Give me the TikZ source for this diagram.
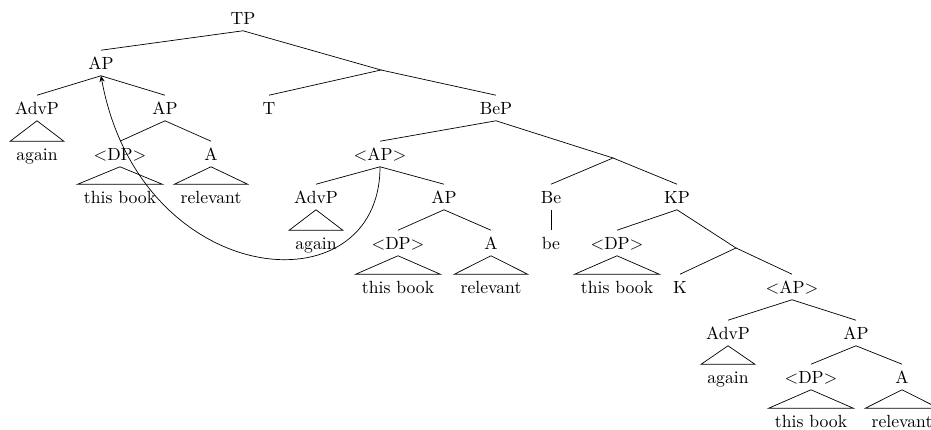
\documentclass[tikz,border=0pt]{standalone}
\usepackage{tikz}
\usetikzlibrary{arrows.meta}

\begin{document}
\begin{tikzpicture}[
      x=0.567pt,y=-0.567pt,
      cat/.style={inner xsep=3.33pt,inner ysep=3.6pt,
                  text height=1.6ex,text depth=0pt},
      move/.style={-{Stealth[length=3.5pt,width=3pt]}},
    ]
    \useasboundingbox (0,0) rectangle (931,430);

    % TP and its left AP
    \node[cat] (tp) at (243,18) {TP};
    \node[cat] (ap) at (101,63) {AP};
    \node[cat] (advpa) at (37,108) {AdvP};
    \node[cat] (againa) at (37,154) {again};
    \node[cat] (apa) at (165,108) {AP};
    \node[cat] (dpa) at (120,154) {$<$DP$>$};
    \node[cat] (booka) at (120,197) {this book};
    \node[cat] (aa) at (211,154) {A};
    \node[cat] (rela) at (211,197) {relevant};

    % T' and BeP
    \coordinate (tbar) at (381,70);
    \node[cat] (t) at (269,108) {T};
    \node[cat] (bep) at (496,108) {BeP};
    \node[cat] (apb) at (380,154) {$<$AP$>$};
    \node[cat] (advpb) at (316,197) {AdvP};
    \node[cat] (againb) at (316,243) {again};
    \node[cat] (apbb) at (444,197) {AP};
    \node[cat] (dpb) at (398,243) {$<$DP$>$};
    \node[cat] (bookb) at (398,287) {this book};
    \node[cat] (ab) at (491,243) {A};
    \node[cat] (relb) at (491,287) {relevant};

    % Be' and KP
    \coordinate (bebar) at (613,158);
    \node[cat] (be) at (551,197) {Be};
    \node[cat] (bew) at (551,243) {be};
    \node[cat] (kp) at (677,197) {KP};
    \node[cat] (dpc) at (617,243) {$<$DP$>$};
    \node[cat] (bookc) at (617,287) {this book};
    \coordinate (kbar) at (736,248);
    \node[cat] (k) at (680,287) {K};
    \node[cat] (apc) at (792,287) {$<$AP$>$};
    \node[cat] (advpc) at (728,333) {AdvP};
    \node[cat] (againc) at (728,377) {again};
    \node[cat] (apcc) at (856,333) {AP};
    \node[cat] (dpc2) at (811,377) {$<$DP$>$};
    \node[cat] (bookc2) at (811,421) {this book};
    \node[cat] (ac) at (902,377) {A};
    \node[cat] (relc) at (902,421) {relevant};

    % Branches
    \draw (tp.south) -- (ap.north);
    \draw (tp.south) -- (tbar) -- (t.north);
    \draw (tbar) -- (bep.north);
    \draw (ap.south) -- (advpa.north);
    \draw (ap.south) -- (apa.north);
    \draw (apa.south) -- (dpa.north);
    \draw (apa.south) -- (aa.north);
    \draw (bep.south) -- (apb.north);
    \draw (bep.south) -- (bebar) -- (be.north);
    \draw (bebar) -- (kp.north);
    \draw (apb.south) -- (advpb.north);
    \draw (apb.south) -- (apbb.north);
    \draw (apbb.south) -- (dpb.north);
    \draw (apbb.south) -- (ab.north);
    \draw (be.south) -- (bew.north);
    \draw (kp.south) -- (dpc.north);
    \draw (kp.south) -- (kbar) -- (k.north);
    \draw (kbar) -- (apc.north);
    \draw (apc.south) -- (advpc.north);
    \draw (apc.south) -- (apcc.north);
    \draw (apcc.south) -- (dpc2.north);
    \draw (apcc.south) -- (ac.north);

    % Roofs
    \draw (advpa.south) -- (againa.north west) -- (againa.north east) -- cycle;
    \draw (dpa.south) -- (booka.north west) -- (booka.north east) -- cycle;
    \draw (aa.south) -- (rela.north west) -- (rela.north east) -- cycle;
    \draw (advpb.south) -- (againb.north west) -- (againb.north east) -- cycle;
    \draw (dpb.south) -- (bookb.north west) -- (bookb.north east) -- cycle;
    \draw (ab.south) -- (relb.north west) -- (relb.north east) -- cycle;
    \draw (dpc.south) -- (bookc.north west) -- (bookc.north east) -- cycle;
    \draw (advpc.south) -- (againc.north west) -- (againc.north east) -- cycle;
    \draw (dpc2.south) -- (bookc2.north west) -- (bookc2.north east) -- cycle;
    \draw (ac.south) -- (relc.north west) -- (relc.north east) -- cycle;

    % Movement
    \draw[move] (apb.south) .. controls (380,312) and (140,290) .. (ap.south);

  \end{tikzpicture}
\end{document}
